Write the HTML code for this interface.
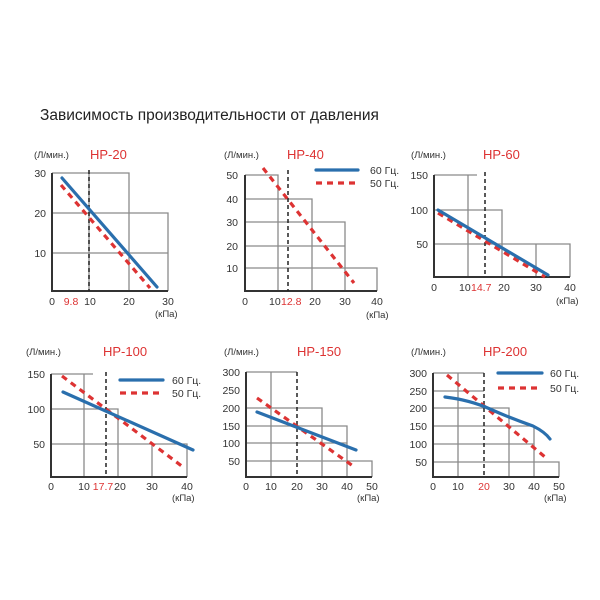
<!DOCTYPE html>
<html><head><meta charset="utf-8"><style>
html,body{margin:0;padding:0;background:#fff}
svg{display:block;font-family:"Liberation Sans","DejaVu Sans",sans-serif}
.g{stroke:#8a8a8a;stroke-width:1.3;fill:none}
.ax{stroke:#333;stroke-width:2;fill:none}
.d{stroke:#222;stroke-width:1.5;stroke-dasharray:4,3;fill:none}
.b{stroke:#2a6fad;stroke-width:3.2;fill:none;stroke-linecap:round}
.r{stroke:#dd3333;stroke-width:3.2;fill:none;stroke-dasharray:6,5}
text{font-size:10.5px;fill:#333}
.u{font-size:9.5px}
.t{font-size:13px;fill:#dd3333}
.rt{fill:#dd3333}
.y{text-anchor:end}
.c{text-anchor:middle}
</style></head><body>
<svg width="600" height="600" viewBox="0 0 600 600">
<text x="40" y="120" style="font-size:15.5px;fill:#222">Зависимость производительности от давления</text>

<!-- HP-20 -->
<text class="u" x="34" y="158">(Л/мин.)</text><text class="t" x="90" y="159">HP-20</text>
<path class="g" d="M52 173H129V291M52 213H168V291M52 253H168M89 173V291"/>
<path class="ax" d="M52 173V291H168"/>
<path class="d" d="M89 170V291"/>
<path class="r" d="M61 185L150 288"/>
<path class="b" d="M62 178L157 287"/>
<text class="y" x="46" y="177">30</text><text class="y" x="46" y="217">20</text><text class="y" x="46" y="257">10</text>
<text class="c" x="52" y="305">0</text><text class="c rt" x="71" y="305">9.8</text><text class="c" x="90" y="305">10</text><text class="c" x="129" y="305">20</text><text class="c" x="168" y="305">30</text>
<text class="u" x="155" y="317">(кПа)</text>

<!-- HP-40 -->
<text class="u" x="224" y="158">(Л/мин.)</text><text class="t" x="287" y="159">HP-40</text>
<path class="g" d="M245 175H278V291M245 199H312V291M245 222H345V291M245 246H345M245 268H377V291"/>
<path class="ax" d="M245 175V291H377"/>
<path class="d" d="M288 170V291"/>
<path class="r" d="M263 168L354 283"/>
<path class="b" d="M316 170H358"/><text x="370" y="174">60 Гц.</text>
<path class="r" d="M316 183H358"/><text x="370" y="187">50 Гц.</text>
<text class="y" x="238" y="179">50</text><text class="y" x="238" y="203">40</text><text class="y" x="238" y="226">30</text><text class="y" x="238" y="250">20</text><text class="y" x="238" y="272">10</text>
<text class="c" x="245" y="305">0</text><text x="269" y="305">10</text><text class="rt" x="281" y="305">12.8</text><text class="c" x="315" y="305">20</text><text class="c" x="345" y="305">30</text><text class="c" x="377" y="305">40</text>
<text class="u" x="366" y="318">(кПа)</text>

<!-- HP-60 -->
<text class="u" x="411" y="158">(Л/мин.)</text><text class="t" x="483" y="159">HP-60</text>
<path class="g" d="M434 175H477M468 175V277M434 210H502V277M434 244H570V277M536 244V277"/>
<path class="ax" d="M434 175V277H570"/>
<path class="d" d="M485 172V277"/>
<path class="r" d="M438 213L545 277"/>
<path class="b" d="M438 210L548 275"/>
<text class="y" x="428" y="179">150</text><text class="y" x="428" y="214">100</text><text class="y" x="428" y="248">50</text>
<text class="c" x="434" y="291">0</text><text x="459" y="291">10</text><text class="rt" x="471" y="291">14.7</text><text class="c" x="504" y="291">20</text><text class="c" x="536" y="291">30</text><text class="c" x="570" y="291">40</text>
<text class="u" x="556" y="304">(кПа)</text>

<!-- HP-100 -->
<text class="u" x="26" y="355">(Л/мин.)</text><text class="t" x="103" y="356">HP-100</text>
<path class="g" d="M51 374H93M84 374V477M51 409H118V477M51 444H187V477M152 444V477"/>
<path class="ax" d="M51 374V477H187"/>
<path class="d" d="M106 372V477"/>
<path class="r" d="M62 376L183 467"/>
<path class="b" d="M63 392L193 450"/>
<path class="b" d="M120 380H163"/><text x="172" y="384">60 Гц.</text>
<path class="r" d="M120 393H163"/><text x="172" y="397">50 Гц.</text>
<text class="y" x="45" y="378">150</text><text class="y" x="45" y="413">100</text><text class="y" x="45" y="448">50</text>
<text class="c" x="51" y="490">0</text><text class="c" x="84" y="490">10</text><text class="c rt" x="103" y="490">17.7</text><text class="c" x="120" y="490">20</text><text class="c" x="152" y="490">30</text><text class="c" x="187" y="490">40</text>
<text class="u" x="172" y="501">(кПа)</text>

<!-- HP-150 -->
<text class="u" x="224" y="355">(Л/мин.)</text><text class="t" x="297" y="356">HP-150</text>
<path class="g" d="M246 372H297M271 372V477M246 408H322V477M246 426H347V477M246 443H347M246 461H372V477"/>
<path class="ax" d="M246 372V477H372"/>
<path class="d" d="M297 372V477"/>
<path class="r" d="M257 398L353 466"/>
<path class="b" d="M257 412L356 450"/>
<g class="u"><text class="y" x="240" y="376">300</text><text class="y" x="240" y="394">250</text><text class="y" x="240" y="412">200</text><text class="y" x="240" y="430">150</text><text class="y" x="240" y="447">100</text><text class="y" x="240" y="465">50</text></g>
<text class="c" x="246" y="490">0</text><text class="c" x="271" y="490">10</text><text class="c" x="297" y="490">20</text><text class="c" x="322" y="490">30</text><text class="c" x="347" y="490">40</text><text class="c" x="372" y="490">50</text>
<text class="u" x="357" y="501">(кПа)</text>

<!-- HP-200 -->
<text class="u" x="411" y="355">(Л/мин.)</text><text class="t" x="483" y="356">HP-200</text>
<path class="g" d="M433 373H484M433 391H484M458 373V477M433 408H509V477M433 426H534V477M433 444H534M433 462H559V477"/>
<path class="ax" d="M433 373V477H559"/>
<path class="d" d="M484 373V477"/>
<path class="r" d="M447 375L545 457"/>
<path class="b" d="M445 397Q470 400 490 409T533 426Q545 432 550 439"/>
<path class="b" d="M498 373H542"/><text x="550" y="377">60 Гц.</text>
<path class="r" d="M498 388H542"/><text x="550" y="392">50 Гц.</text>
<g class="u"><text class="y" x="427" y="377">300</text><text class="y" x="427" y="395">250</text><text class="y" x="427" y="412">200</text><text class="y" x="427" y="430">150</text><text class="y" x="427" y="448">100</text><text class="y" x="427" y="466">50</text></g>
<text class="c" x="433" y="490">0</text><text class="c" x="458" y="490">10</text><text class="c rt" x="484" y="490">20</text><text class="c" x="509" y="490">30</text><text class="c" x="534" y="490">40</text><text class="c" x="559" y="490">50</text>
<text class="u" x="544" y="501">(кПа)</text>
</svg>
</body></html>
